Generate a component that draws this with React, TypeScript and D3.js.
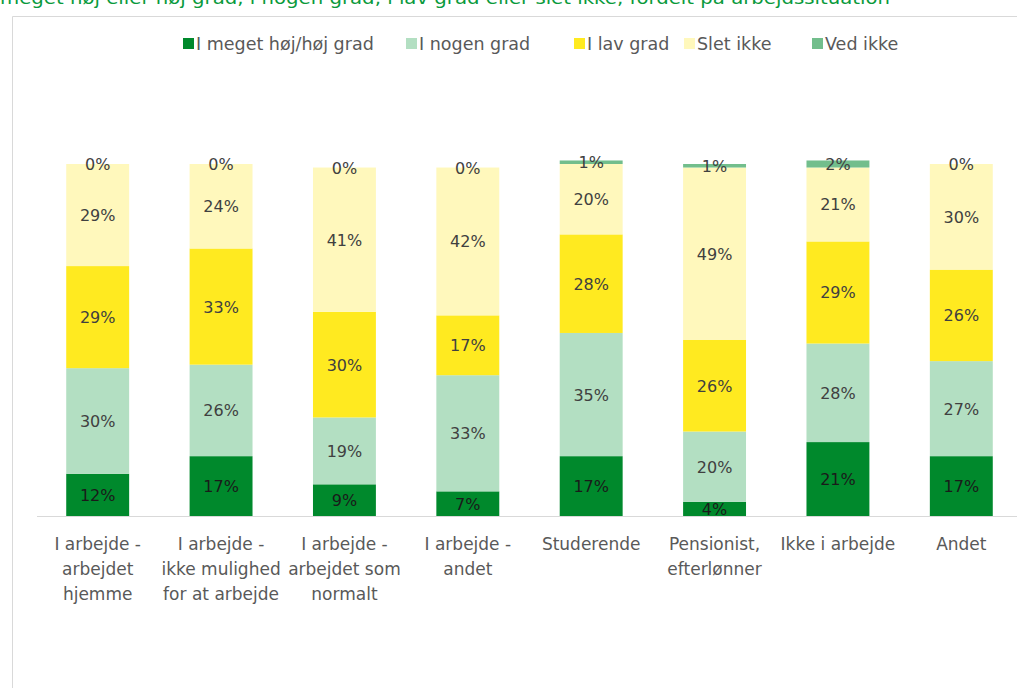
import React, { useEffect, useRef } from 'react';
import * as d3 from 'd3';

const categories = [
  ['I arbejde  -', 'arbejdet', 'hjemme'],
  ['I arbejde -', 'ikke mulighed', 'for at arbejde'],
  ['I arbejde -', 'arbejdet som', 'normalt'],
  ['I arbejde -', 'andet'],
  ['Studerende'],
  ['Pensionist,', 'efterlønner'],
  ['Ikke i arbejde'],
  ['Andet'],
];
const seriesNames = ['I meget høj/høj grad', 'I nogen grad', 'I lav grad', 'Slet ikke', 'Ved ikke'];
const seriesColors = ['#00892C', '#B3DFC2', '#FFEA20', '#FFF8BC', '#72BE8C'];
const hoejGrad = [12, 17, 9, 7, 17, 4, 21, 17];
const nogenGrad = [30, 26, 19, 33, 35, 20, 28, 27];
const lavGrad = [29, 33, 30, 17, 28, 26, 29, 26];
const sletIkke = [29, 24, 41, 42, 20, 49, 21, 30];
const vedIkke = [0, 0, 0, 0, 1, 1, 2, 0];
const legendX = [183, 406, 574, 684, 812];
const title = 'meget høj eller høj grad, i nogen grad, i lav grad eller slet ikke, fordelt på arbejdssituation';

export default function App() {
  const ref = useRef<SVGSVGElement>(null);

  useEffect(() => {
    const svg = d3.select(ref.current);
    svg.selectAll('*').remove();
    const font = "'DejaVu Sans', sans-serif";
    const values = [hoejGrad, nogenGrad, lavGrad, sletIkke, vedIkke];

    // title (cut at the top edge as in the source)
    svg
      .append('text')
      .attr('x', 0)
      .attr('y', 4)
      .attr('font-family', font)
      .attr('font-size', 17)
      .attr('fill', '#0A9A3C')
      .attr('textLength', 890)
      .attr('lengthAdjust', 'spacingAndGlyphs')
      .text(title);

    // frame
    svg.append('path').attr('d', 'M12.5,688 V16.5 H1017').attr('fill', 'none').attr('stroke', '#D9D9D9');

    // legend
    seriesNames.forEach((n, i) => {
      svg.append('rect').attr('x', legendX[i]).attr('y', 38).attr('width', 11).attr('height', 11).attr('fill', seriesColors[i]);
      svg
        .append('text')
        .attr('x', legendX[i] + 13)
        .attr('y', 50)
        .attr('font-family', font)
        .attr('font-size', 17.5)
        .attr('fill', '#595959')
        .text(n);
    });

    const x = d3
      .scaleBand()
      .domain(categories.map((_, i) => String(i)))
      .range([36, 1023])
      .paddingInner(0.49)
      .paddingOuter(0.245);
    const y = d3.scaleLinear().domain([0, 100]).range([516, 164]);

    categories.forEach((_, ci) => {
      let acc = 0;
      values.forEach((vals, si) => {
        const v = vals[ci];
        const y0 = y(acc);
        const y1 = y(acc + v);
        acc += v;
        svg
          .append('rect')
          .attr('x', x(String(ci))!)
          .attr('y', y1)
          .attr('width', x.bandwidth())
          .attr('height', y0 - y1)
          .attr('fill', seriesColors[si]);
      });
    });

    categories.forEach((_, ci) => {
      let acc = 0;
      values.forEach((vals, si) => {
        const v = vals[ci];
        const mid = y(acc + v / 2);
        acc += v;
        svg
          .append('text')
          .attr('x', x(String(ci))! + x.bandwidth() / 2)
          .attr('y', mid + 6)
          .attr('text-anchor', 'middle')
          .attr('font-family', font)
          .attr('font-size', 16)
          .attr('fill', si === 0 ? '#1a1a1a' : '#404040')
          .text(`${v}%`);
      });
    });

    // axis line
    svg.append('line').attr('x1', 37).attr('x2', 1017).attr('y1', 516.5).attr('y2', 516.5).attr('stroke', '#D9D9D9');

    categories.forEach((lines, ci) => {
      const t = svg
        .append('text')
        .attr('text-anchor', 'middle')
        .attr('font-family', font)
        .attr('font-size', 17)
        .attr('fill', '#595959');
      lines.forEach((l, li) => {
        t.append('tspan')
          .attr('x', x(String(ci))! + x.bandwidth() / 2)
          .attr('y', 550 + li * 25)
          .text(l);
      });
    });
  }, []);

  return (
    <svg
      ref={ref}
      width={1017}
      height={688}
      style={{ position: 'absolute', left: 0, top: 0, background: '#fff' }}
    />
  );
}
